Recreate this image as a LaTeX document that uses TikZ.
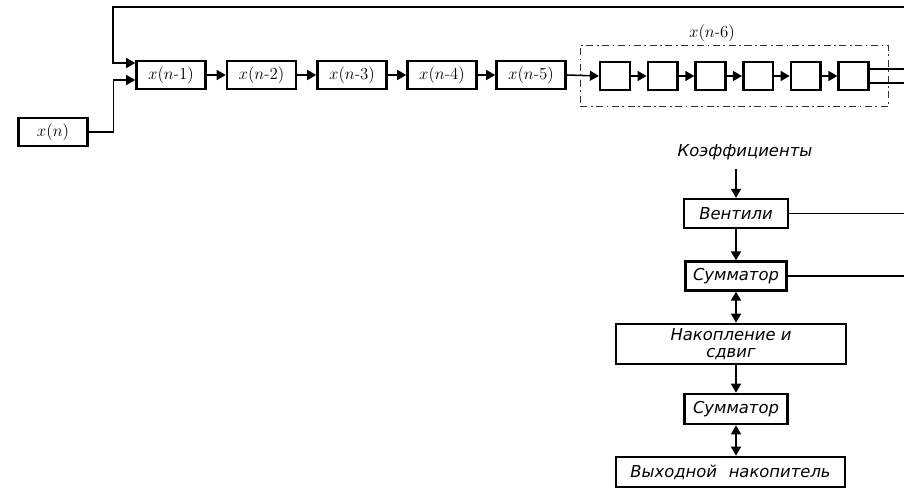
\documentclass[tikz,border=0pt]{standalone}
\usepackage{fontspec}
\usepackage{tikz}
\usetikzlibrary{arrows.meta,positioning,fit,calc}
\newfontfamily\rusfont{DejaVu Sans}
\newcommand{\xdel}[1]{$x(n\mbox{-}#1)$}

\begin{document}
\begin{tikzpicture}[x=0.3mm,y=-0.3mm,
  font=\fontsize{15}{16}\selectfont,
  reg/.style={draw=black,line width=2.2pt,minimum width=20.7mm,
    minimum height=8.4mm,inner sep=1pt},
  cell/.style={draw=black,line width=2.2pt,minimum width=8.9mm,
    minimum height=8.4mm,inner sep=0pt},
  unit/.style={draw=black,line width=2.2pt,minimum height=8.6mm,
    inner sep=1pt,align=center,
    font=\rusfont\itshape\fontsize{14}{14}\selectfont},
  flow/.style={-{Triangle[length=2.7mm,width=3mm]},
    draw=black,line width=1.3pt},
  twoway/.style={{Triangle[length=2.7mm,width=3mm]}-{Triangle[length=2.7mm,width=3mm]},
    draw=black,line width=1.3pt},
  wire/.style={draw=black,line width=1.2pt},
  bracket/.style={draw=black!80,line width=0.6pt,
    dash pattern=on 6pt off 3pt on 1.5pt off 3pt}]
\useasboundingbox (0,0) rectangle (904,490);

% delay line
\node[reg] (xn) at (53,132) {$x(n)$};
\node[reg] (d1) at (171,75) {\xdel{1}};
\node[reg] (d2) at (261.5,75) {\xdel{2}};
\node[reg] (d3) at (352,75) {\xdel{3}};
\node[reg] (d4) at (442,75) {\xdel{4}};
\node[reg] (d5) at (531,75) {\xdel{5}};
\node[cell] (c1) at (615,76) {};
\node[cell] (c2) at (662.7,76) {};
\node[cell] (c3) at (710.4,76) {};
\node[cell] (c4) at (758.1,76) {};
\node[cell] (c5) at (805.8,76) {};
\node[cell] (c6) at (853.5,76) {};
\node[bracket,fit=(c1)(c6),inner xsep=5.6mm,inner ysep=4.6mm] (buf) {};
\node (buf_lbl) at (712,33) {\xdel{6}};

\coordinate (e_top) at (904,7);
\coordinate (fb) at (113,7);
\draw[flow] (e_top)--(fb)|-([yshift=3.6mm]d1.west);
\draw[flow] (xn.east)-|(113.5,100)|-([yshift=-1.5mm]d1.west);
\draw[flow] (d1.east)--(d2.west);
\draw[flow] (d2.east)--(d3.west);
\draw[flow] (d3.east)--(d4.west);
\draw[flow] (d4.east)--(d5.west);
\draw[flow] (d5.east)--(c1.west);
\draw[flow] (c1.east)--(c2.west);
\draw[flow] (c2.east)--(c3.west);
\draw[flow] (c3.east)--(c4.west);
\draw[flow] (c4.east)--(c5.west);
\draw[flow] (c5.east)--(c6.west);
\draw[wire] ([yshift=2.1mm]c6.east)--([yshift=2.1mm]c6.east-|e_top);
\draw[wire] ([yshift=-2.1mm]c6.east)--([yshift=-2.1mm]c6.east-|e_top);

% arithmetic unit
\node[font=\rusfont\itshape\fontsize{14}{15}\selectfont] (coef) at (745,152) {Коэффициенты};
\node[unit,minimum width=31.2mm] (vent) at (736,213.5) {Вентили};
\node[unit,minimum width=30.3mm] (sum1) at (736,276) {Сумматор};
\node[unit,minimum width=69mm,minimum height=12mm] (acc) at (731,344) {Накопление и\\сдвиг};
\node[unit,minimum width=31mm,minimum height=9mm] (sum2) at (736,409) {Сумматор};
\node[unit,minimum width=68.7mm,minimum height=9mm] (outp) at (730.5,472) {Выходной\hspace{3.5mm}накопитель};

\draw[flow] ([yshift=-1.5mm]coef.south-|vent.north)--(vent.north);
\draw[flow] (vent.south)--(sum1.north);
\draw[twoway] (sum1.south)--(sum1.south|-acc.north);
\draw[flow] (sum2.north|-acc.south)--(sum2.north);
\draw[twoway] (sum2.south)--(sum2.south|-outp.north);
\draw[wire] (vent.east)--(vent.east-|e_top);
\draw[wire] (sum1.east)--(sum1.east-|e_top);
\end{tikzpicture}
\end{document}
